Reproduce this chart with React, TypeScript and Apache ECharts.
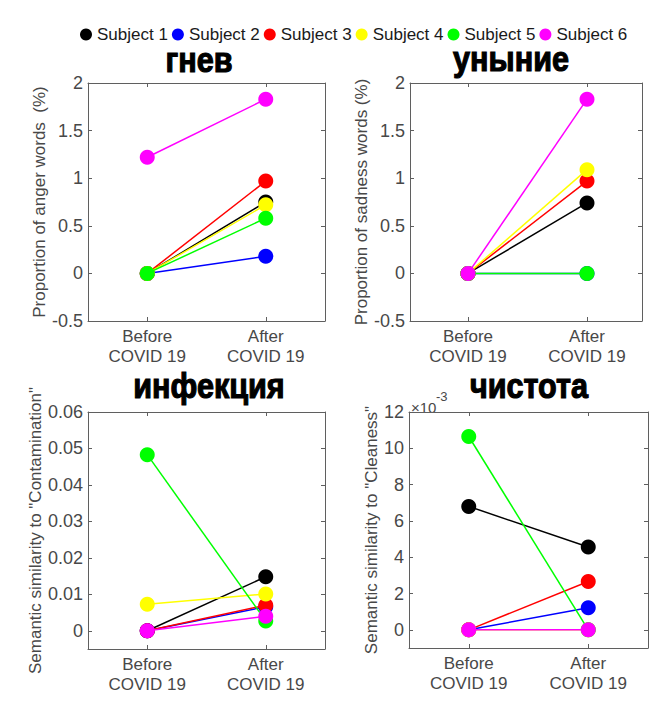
import React, { useEffect, useRef } from "react";
import * as echarts from "echarts";

// ---- data ----
const categories = ["Before\nCOVID 19", "After\nCOVID 19"];
const subjects = ["Subject 1", "Subject 2", "Subject 3", "Subject 4", "Subject 5", "Subject 6"];
const subjectColors = ["#000000", "#0000ff", "#ff0000", "#ffff00", "#00ff00", "#ff00ff"];

const titles = ["гнев", "уныние", "инфекция", "чистота"];
const yNames = [
  "Proportion of anger words  (%)",
  "Proportion of sadness words (%)",
  "Semantic similarity to \"Contamination\"",
  "Semantic similarity to \"Cleaness\"",
];

const angerBefore = [0, 0, 0, 0, 0, 1.22];
const angerAfter = [0.75, 0.18, 0.97, 0.72, 0.58, 1.83];
const sadnessBefore = [0, 0, 0, 0, 0, 0];
const sadnessAfter = [0.74, 0, 0.97, 1.09, 0, 1.83];
const contaminationBefore = [0, 0, 0, 0.0073, 0.0483, 0];
const contaminationAfter = [0.0148, 0.0066, 0.007, 0.0101, 0.0027, 0.004];
const cleanessBefore = [0.0068, 0, 0, 0, 0.01065, 0];
const cleanessAfter = [0.00456, 0.00122, 0.00266, 0, 0, 0];

const angerTicks = [-0.5, 0, 0.5, 1, 1.5, 2];
const sadnessTicks = [-0.5, 0, 0.5, 1, 1.5, 2];
const contaminationTicks = [0, 0.01, 0.02, 0.03, 0.04, 0.05, 0.06];
const cleanessTicks = [0, 0.002, 0.004, 0.006, 0.008, 0.01, 0.012];

const FONT = "'Liberation Sans', Arial, Helvetica, sans-serif";
const AXIS_COLOR = "#5f5f5f";
const LABEL_COLOR = "#484848";

type Panel = {
  grid: { left: number; top: number; width: number; height: number };
  xMin: number;
  xMax: number;
  yMin: number;
  yMax: number;
  ticks: number[];
  fmt: (v: number) => string;
  before: number[];
  after: number[];
  nameGap: number;
};

const panels: Panel[] = [
  {
    grid: { left: 88, top: 83, width: 237, height: 238 },
    xMin: 0.5, xMax: 2.5, yMin: -0.5, yMax: 2,
    ticks: angerTicks, fmt: (v) => String(v),
    before: angerBefore, after: angerAfter, nameGap: 31,
  },
  {
    grid: { left: 410, top: 83, width: 232, height: 238 },
    xMin: 0.513, xMax: 2.462, yMin: -0.5, yMax: 2,
    ticks: sadnessTicks, fmt: (v) => String(v),
    before: sadnessBefore, after: sadnessAfter, nameGap: 37,
  },
  {
    grid: { left: 88, top: 412, width: 237, height: 237 },
    xMin: 0.5, xMax: 2.5, yMin: -0.005, yMax: 0.06,
    ticks: contaminationTicks, fmt: (v) => String(Math.round(v * 100) / 100),
    before: contaminationBefore, after: contaminationAfter, nameGap: 36,
  },
  {
    grid: { left: 409, top: 412, width: 239, height: 236 },
    xMin: 0.5, xMax: 2.5, yMin: -0.001, yMax: 0.012,
    ticks: cleanessTicks, fmt: (v) => String(Math.round(v * 1000)),
    before: cleanessBefore, after: cleanessAfter, nameGap: 26,
  },
];

const titlePos = [
  { x: 199, y: 60 },
  { x: 511, y: 59 },
  { x: 209, y: 386 },
  { x: 529, y: 386 },
];

function buildOption() {
  const grid: any[] = [];
  const xAxis: any[] = [];
  const yAxis: any[] = [];
  const series: any[] = [];

  panels.forEach((p, k) => {
    grid.push({ ...p.grid, containLabel: false });
    const lineStyle = { color: AXIS_COLOR, width: 1 };
    const baseX = {
      type: "value",
      gridIndex: k,
      min: p.xMin,
      max: p.xMax,
      splitLine: { show: false },
      axisLine: { show: true, onZero: false, lineStyle },
    };
    xAxis.push({
      ...baseX,
      position: "bottom",
      axisTick: { show: true, inside: true, length: 4, customValues: [1, 2], lineStyle },
      axisLabel: {
        show: true,
        customValues: [1, 2],
        formatter: (v: number) => categories[Math.round(v) - 1],
        color: LABEL_COLOR,
        fontSize: 17,
        lineHeight: 20,
        margin: 5,
        fontFamily: FONT,
      },
    });
    xAxis.push({
      ...baseX,
      position: "top",
      axisTick: { show: true, inside: true, length: 4, customValues: [1, 2], lineStyle },
      axisLabel: { show: false },
    });
    const baseY = {
      type: "value",
      gridIndex: k,
      min: p.yMin,
      max: p.yMax,
      splitLine: { show: false },
      axisLine: { show: true, onZero: false, lineStyle },
    };
    yAxis.push({
      ...baseY,
      position: "left",
      name: yNames[k],
      nameLocation: "middle",
      nameRotate: 90,
      nameGap: p.nameGap,
      nameTextStyle: { color: LABEL_COLOR, fontSize: 17, fontFamily: FONT },
      axisTick: { show: true, inside: true, length: 4, customValues: p.ticks, lineStyle },
      axisLabel: {
        show: true,
        customValues: p.ticks,
        formatter: p.fmt,
        color: LABEL_COLOR,
        fontSize: 18,
        margin: 5,
        fontFamily: FONT,
      },
    });
    yAxis.push({
      ...baseY,
      position: "right",
      axisTick: { show: true, inside: true, length: 4, customValues: p.ticks, lineStyle },
      axisLabel: { show: false },
    });

    subjects.forEach((name, i) => {
      series.push({
        type: "line",
        name,
        xAxisIndex: k * 2,
        yAxisIndex: k * 2,
        data: [
          [1, p.before[i]],
          [2, p.after[i]],
        ],
        symbol: "circle",
        symbolSize: 15,
        showSymbol: true,
        color: subjectColors[i],
        itemStyle: { color: subjectColors[i] },
        lineStyle: { color: subjectColors[i], width: 1.5 },
        emphasis: { disabled: true },
        silent: true,
        z: 2 + i,
      });
    });
  });

  const graphic: any[] = titles.map((t, k) => ({
    type: "text",
    x: titlePos[k].x,
    y: titlePos[k].y,
    scaleX: 0.85,
    style: {
      text: t,
      fill: "#000",
      stroke: "#000",
      lineWidth: 1.2,
      font: `bold 36px ${FONT}`,
      textAlign: "center",
      textVerticalAlign: "middle",
    },
  }));
  graphic.push({
    type: "text",
    x: 411,
    y: 407,
    style: {
      text: "×10",
      fill: LABEL_COLOR,
      font: `15px ${FONT}`,
      textAlign: "left",
      textVerticalAlign: "middle",
    },
  });
  graphic.push({
    type: "text",
    x: 436,
    y: 396,
    style: {
      text: "-3",
      fill: LABEL_COLOR,
      font: `13px ${FONT}`,
      textAlign: "left",
      textVerticalAlign: "middle",
    },
  });

  return {
    animation: false,
    backgroundColor: "#ffffff",
    textStyle: { fontFamily: FONT },
    legend: {
      data: subjects,
      icon: "circle",
      itemWidth: 12,
      itemHeight: 12,
      itemGap: 4,
      left: 75,
      top: 21,
      textStyle: { color: "#1a1a1a", fontSize: 17, fontFamily: FONT },
      selectedMode: false,
    },
    grid,
    xAxis,
    yAxis,
    series,
    graphic,
  };
}

export default function App() {
  const ref = useRef<HTMLDivElement>(null);
  useEffect(() => {
    document.body.style.margin = "0";
    if (!ref.current) return;
    const chart = echarts.init(ref.current, undefined, { renderer: "svg" });
    chart.setOption(buildOption() as any);
    return () => chart.dispose();
  }, []);
  return <div ref={ref} style={{ width: 652, height: 720, background: "#fff" }} />;
}
